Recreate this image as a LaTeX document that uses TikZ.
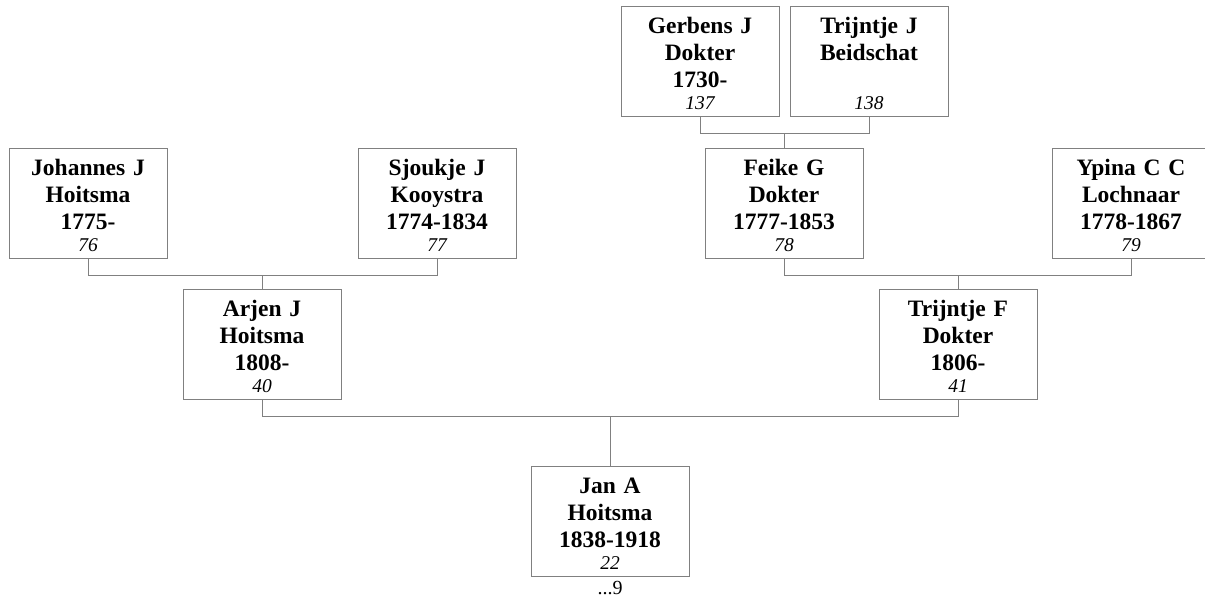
\documentclass[tikz,border=0pt]{standalone}
\usepackage{fontspec}
\setmainfont{Liberation Serif}
\usetikzlibrary{positioning}
\tikzset{person/.style={draw=black!50,line width=1pt,minimum width=158pt,minimum height=110pt,
   text width=154pt,align=center,inner sep=0pt,font=\fontsize{23.5}{27}\selectfont\bfseries},
 link/.style={draw=black!50,line width=1pt}}
\newcommand{\nr}[1]{\\[-5pt]{\fontsize{19.5}{22}\selectfont\mdseries\itshape #1}}
\newcommand{\tp}{\rule{0pt}{20pt}}

\begin{document}
\begin{tikzpicture}[x=1pt,y=-1pt]
 \useasboundingbox (0,0) rectangle (1205,604);
 % generation 4
 \node[person] (gerbens) at (700,62) {\tp Gerbens J\\Dokter\\1730-\nr{137}};
 \node[person] (beidschat) at (869,62) {\tp Trijntje J\\Beidschat\\\mbox{}\nr{138}};
 % generation 3
 \node[person] (johannes) at (88,203.5) {\tp Johannes J\\Hoitsma\\1775-\nr{76}};
 \node[person] (sjoukje) at (437,203.5) {\tp Sjoukje J\\Kooystra\\1774-1834\nr{77}};
 \node[person] (feike) at (784,203.5) {\tp Feike G\\Dokter\\1777-1853\nr{78}};
 \node[person] (ypina) at (1131,203.5) {\tp Ypina C C\\Lochnaar\\1778-1867\nr{79}};
 % generation 2
 \node[person] (arjen) at (262,344.5) {\tp Arjen J\\Hoitsma\\1808-\nr{40}};
 \node[person] (trijntjeF) at (958,344.5) {\tp Trijntje F\\Dokter\\1806-\nr{41}};
 % generation 1
 \node[person] (jan) at (610,521) {\tp Jan A\\Hoitsma\\1838-1918\nr{22}};
 \node[below=5pt of jan,inner sep=0pt,font=\fontsize{20}{22}\selectfont] (more) {...9};
 % parents to child
 \foreach \fa/\mo/\ch in {gerbens/beidschat/feike,johannes/sjoukje/arjen,
   feike/ypina/trijntjeF,arjen/trijntjeF/jan}{
  \draw[link] (\fa.south) -- ++(0,16) coordinate (bar) -| (\mo.south);
  \draw[link] (\ch.north) -- (\ch.north |- bar);
 }
\end{tikzpicture}
\end{document}
